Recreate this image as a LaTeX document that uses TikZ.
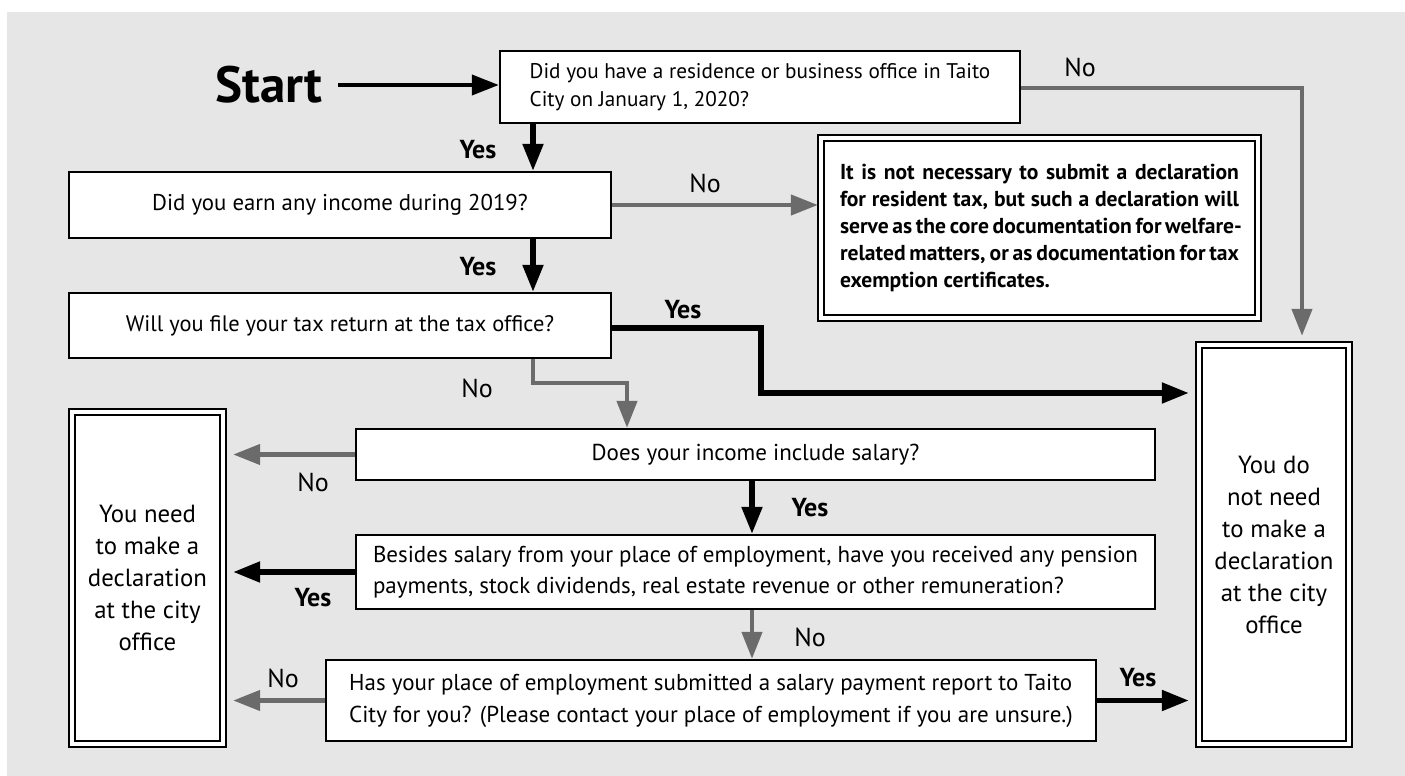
\documentclass[tikz,border=0pt]{standalone}
\usepackage{fontspec}
\setmainfont{PT Sans}
\usetikzlibrary{arrows.meta}
\definecolor{bggray}{HTML}{E6E6E6}
\definecolor{arrgray}{HTML}{6B6B6B}
\tikzset{
  qbox/.style={draw,line width=1.2pt,fill=white,inner sep=0pt,
    font=\fontsize{11.4}{14}\selectfont},
  endbox/.style={draw,line width=1.2pt,double=white,double distance=1.6pt,
    fill=white,inner sep=0pt,align=center,font=\fontsize{12.4}{16}\selectfont},
  yesline/.style={line width=2.6pt,-{Triangle[length=13.5pt,width=10pt]}},
  noline/.style={line width=2.2pt,arrgray,-{Triangle[length=13.5pt,width=10pt]}},
  lbl/.style={inner sep=0pt,font=\fontsize{13}{15}\selectfont},
  ylbl/.style={inner sep=0pt,font=\fontsize{13}{15}\selectfont\bfseries},
}
\newcommand\jline[1]{\makebox[199.5pt][s]{#1}}
\begin{document}
\begin{tikzpicture}[x=0.5pt,y=-0.5pt]
  \useasboundingbox (0,0) rectangle (1405,776);
  \fill[white] (0,0) rectangle (1405,776);
  \fill[bggray] (7,12) rectangle (1405,776);

  % questions
  \node[qbox,minimum width=260pt,minimum height=36pt,align=left,
    font=\fontsize{10.6}{14}\selectfont] (q1) at (760,87)
    {Did you have a residence or business office in Taito\\City on January 1, 2020?};
  \node[qbox,minimum width=271pt,minimum height=33pt] (q2) at (340,205)
    {Did you earn any income during 2019?};
  \node[qbox,minimum width=271pt,minimum height=32.5pt,
    font=\fontsize{11.2}{14}\selectfont] (q3) at (340,325.5)
    {Will you file your tax return at the tax office?};
  \node[qbox,minimum width=399.5pt,minimum height=25.5pt,
    font=\fontsize{11.5}{14}\selectfont] (q4) at (755.5,454.5)
    {Does your income include salary?};
  \node[qbox,minimum width=399.5pt,minimum height=37pt,align=left,
    font=\fontsize{11.5}{15.5}\selectfont] (q5) at (755.5,572)
    {Besides salary from your place of employment, have you received any pension\\
     payments, stock dividends, real estate revenue or other remuneration?};
  \node[qbox,minimum width=385pt,minimum height=40.5pt,align=left,
    font=\fontsize{11.5}{16}\selectfont] (q6) at (711,700.5)
    {Has your place of employment submitted a salary payment report to Taito\\
     City for you? (Please contact your place of employment if you are unsure.)};

  % answers
  \node[endbox,minimum width=218.5pt,minimum height=90pt,align=left,
    font=\fontsize{10.8}{13.5}\selectfont\bfseries] (note) at (1039.5,228)
    {\jline{It is not necessary to submit a declaration}\\
     \jline{for resident tax, but such a declaration will}\\
     \jline{serve as the core documentation for welfare-}\\
     \jline{related matters, or as documentation for tax}\\
     exemption certificates.};
  \node[endbox,minimum width=75.5pt,minimum height=166pt] (need) at (147.5,578)
    {You need\\to make a\\declaration\\at the city\\office};
  \node[endbox,minimum width=75pt,minimum height=199.5pt] (noneed) at (1274,544.5)
    {You do\\not need\\to make a\\declaration\\at the city\\office};

  \node[inner xsep=7.5pt,inner ysep=0pt,anchor=east,
    font=\fontsize{25.5}{30}\selectfont\bfseries] (start) at (338,85) {Start};

  % turning points
  \coordinate (ya) at (533,0);
  \coordinate (yb) at (752,0);
  \coordinate (c1) at (1302,88);
  \coordinate (c2) at (761,328);
  \coordinate (c3) at (627,383);
  \coordinate (c4) at (761,393);

  % connectors
  \draw[yesline,line width=2pt] (start.east) -- (start.east -| q1.west);
  \draw[yesline] (q1.south -| ya) -- (q2.north -| ya);
  \draw[yesline] (q2.south -| ya) -- (q3.north -| ya);
  \draw[noline,shorten >=1pt] (q2.east) -- (q2.east -| note.west);
  \draw[noline,shorten >=4pt] (c1 -| q1.east) -| (noneed.north -| c1);
  \draw[yesline,shorten >=4.5pt] (c2 -| q3.east) -- (c2) -- (c4) -- (c4 -| noneed.west);
  \draw[noline] (q3.south -| ya) |- (c3) -- (q4.north -| c3);
  \draw[noline,shorten >=4.5pt] (q4.west) -- (q4.west -| need.east);
  \draw[yesline] (q4.south -| yb) -- (q5.north -| yb);
  \draw[yesline,shorten >=4.5pt] (q5.west) -- (q5.west -| need.east);
  \draw[noline] (q5.south -| yb) -- (q6.north -| yb);
  \draw[noline,shorten >=4.5pt] (q6.west) -- (q6.west -| need.east);
  \draw[yesline,shorten >=4.5pt] (q6.east) -- (q6.east -| noneed.west);

  % labels
  \node[ylbl] (l1) at (478,150) {Yes};
  \node[ylbl] (l2) at (478,267) {Yes};
  \node[lbl] (l3) at (705,183) {No};
  \node[lbl] (l4) at (1080,67) {No};
  \node[ylbl] (l5) at (683,310) {Yes};
  \node[lbl] (l6) at (477,388) {No};
  \node[lbl] (l7) at (313,482) {No};
  \node[ylbl] (l8) at (810,508) {Yes};
  \node[ylbl] (l9) at (313,598) {Yes};
  \node[lbl] (l10) at (810,637) {No};
  \node[lbl] (l11) at (283,678) {No};
  \node[ylbl] (l12) at (1138,678) {Yes};
\end{tikzpicture}
\end{document}
